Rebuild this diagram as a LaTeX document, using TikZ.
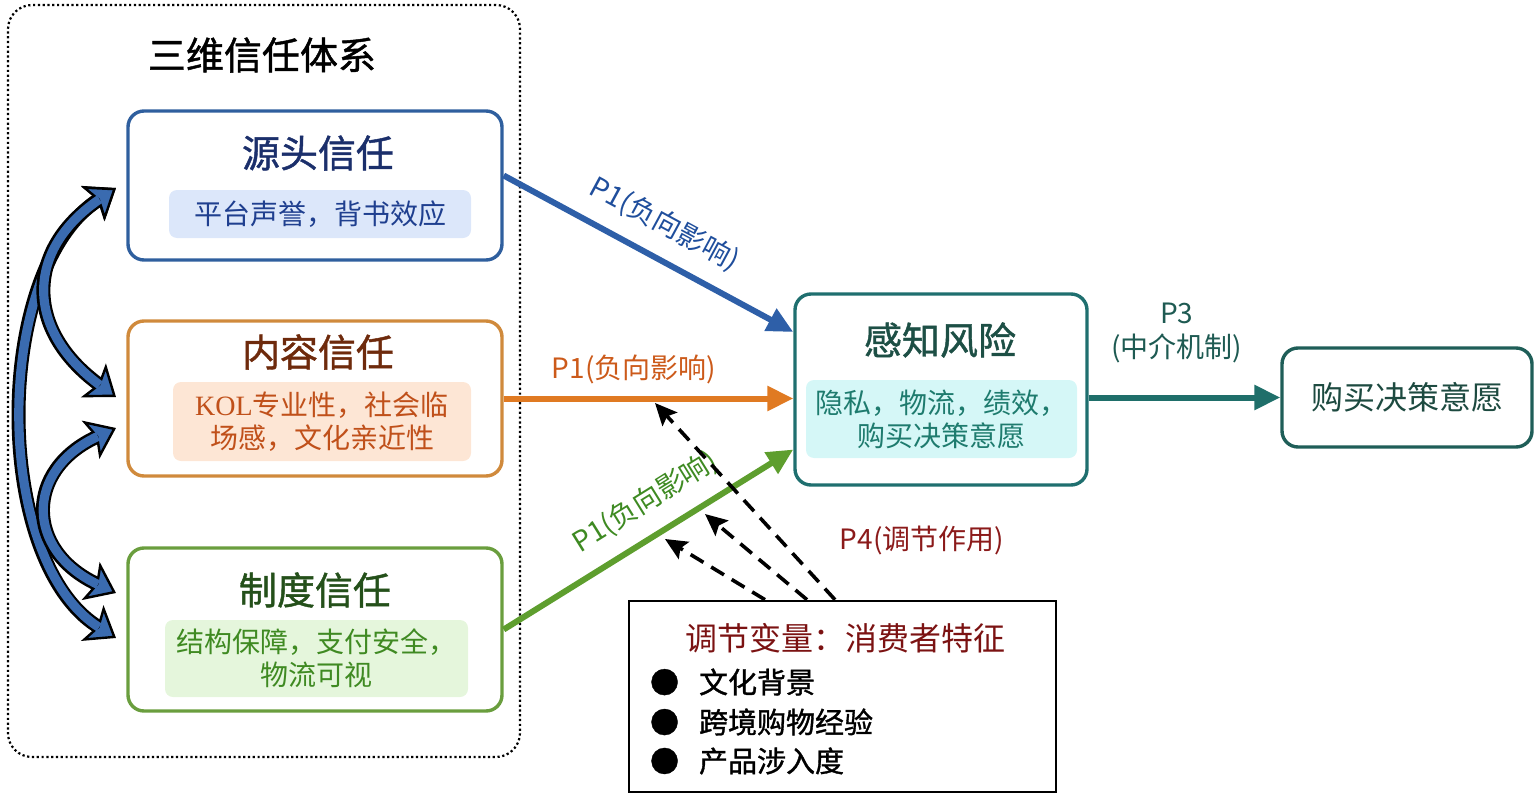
\documentclass[tikz,border=0pt]{standalone}
\usepackage{fontspec}
\setmainfont{Noto Sans CJK SC}
\newfontfamily\midfont{Noto Sans CJK SC}[FakeBold=1.2]
\newfontfamily\kolfont{Liberation Serif}
\usetikzlibrary{arrows.meta}
\definecolor{srcline}{HTML}{2F5F9E}
\definecolor{srctitle}{HTML}{1B2F6B}
\definecolor{srcfill}{HTML}{DCE7FA}
\definecolor{srctext}{HTML}{1F3F8F}
\definecolor{conline}{HTML}{D08A3C}
\definecolor{contitle}{HTML}{6E2A0C}
\definecolor{confill}{HTML}{FDE6D5}
\definecolor{context}{HTML}{C0501A}
\definecolor{insline}{HTML}{6A9E3E}
\definecolor{institle}{HTML}{24501A}
\definecolor{insfill}{HTML}{E5F6DC}
\definecolor{instext}{HTML}{3F8A22}
\definecolor{riskline}{HTML}{1F6F6F}
\definecolor{risktitle}{HTML}{1D4F45}
\definecolor{riskfill}{HTML}{D5F7F7}
\definecolor{risktext}{HTML}{1E7B6E}
\definecolor{intentline}{HTML}{1F5E58}
\definecolor{intenttext}{HTML}{1D4A40}
\definecolor{arblue}{HTML}{2E5FA8}
\definecolor{arorange}{HTML}{E07A22}
\definecolor{argreen}{HTML}{5E9E2E}
\definecolor{arteal}{HTML}{1F6F6A}
\definecolor{p1blue}{HTML}{1F4E9C}
\definecolor{p1orange}{HTML}{CC5A1A}
\definecolor{p1green}{HTML}{3E8A22}
\definecolor{p3text}{HTML}{1E5A52}
\definecolor{p4text}{HTML}{8B1A1A}
\definecolor{modred}{HTML}{7B1212}
\definecolor{arcblue}{HTML}{3A6BB0}

\begin{document}
\begin{tikzpicture}[x=0.5pt,y=-0.5pt,
		frame/.style={draw=black,line width=1.1pt,dash pattern=on 1.1pt off 1.3pt,rounded corners=12pt},
		frametitle/.style={font=\fontsize{19pt}{23pt}\midfont},
		trustbox/.style={draw=#1,line width=1.7pt,rounded corners=8pt,minimum width=187pt},
		boxtitle/.style={font=\fontsize{19pt}{23pt}\midfont},
		innerbox/.style={rounded corners=4pt,align=center,font=\fontsize{14pt}{16.5pt}\selectfont},
		plabel/.style={font=\fontsize{14pt}{17pt}\selectfont,inner sep=1pt},
		p1arrow/.style={line width=3pt,-{Triangle[length=13pt,width=12pt]}},
		modarrow/.style={line width=1.8pt,dash pattern=on 7.5pt off 4.5pt,-{Stealth[length=11pt,width=10pt,inset=2pt]}},
		modtitle/.style={text=modred,font=\fontsize{16pt}{19pt}\selectfont},
		moditem/.style={anchor=west,font=\fontsize{14.5pt}{17pt}\midfont},
		arcout/.style={draw=black,line width=7pt,{Stealth[length=14pt,width=21pt,inset=3pt,fill=arcblue,line width=1.2pt]}-{Stealth[length=14pt,width=21pt,inset=3pt,fill=arcblue,line width=1.2pt]}},
		arcin/.style={draw=arcblue,line width=4.6pt,shorten <=10pt,shorten >=10pt}]
	\useasboundingbox (0,0) rectangle (1536,797);

	\node[frame,minimum width=256pt,minimum height=376pt] (sys) at (264,381) {};
	\node[frametitle] (systitle) at (262,55) {三维信任体系};

	\node[trustbox=srcline,minimum height=74.5pt] (src) at (315,185.5) {};
	\node[boxtitle,text=srctitle] (srchead) at (318,153) {源头信任};
	\node[innerbox,fill=srcfill,text=srctext,minimum width=151pt,minimum height=24pt] (srcnote) at (320,214) {平台声誉，背书效应};

	\node[trustbox=conline,minimum height=77.5pt] (con) at (315,398.5) {};
	\node[boxtitle,text=contitle] (conhead) at (318,352) {内容信任};
	\node[innerbox,fill=confill,text=context,minimum width=149pt,minimum height=39.5pt] (connote) at (322,421.5) {{\kolfont KOL}专业性，社会临\\场感，文化亲近性};

	\node[trustbox=insline,minimum height=81.5pt] (ins) at (315,629.5) {};
	\node[boxtitle,text=institle] (inshead) at (315,590) {制度信任};
	\node[innerbox,fill=insfill,text=instext,minimum width=151.5pt,minimum height=38.5pt] (insnote) at (316.5,658.5) {结构保障，支付安全，\\物流可视};

	\node[trustbox=riskline,minimum width=146pt,minimum height=95.5pt] (risk) at (941,389.5) {};
	\node[boxtitle,text=risktitle] (riskhead) at (940,340) {感知风险};
	\node[innerbox,fill=riskfill,text=risktext,minimum width=135.5pt,minimum height=39pt] (risknote) at (941.5,419) {隐私，物流，绩效，\\购买决策意愿};

	\node[trustbox=intentline,minimum width=125pt,minimum height=49.5pt,text=intenttext,font=\fontsize{16pt}{19pt}\selectfont] (intent) at (1407,397.5) {购买决策意愿};

	\node[draw=black,line width=1.3pt,minimum width=213.5pt,minimum height=95.5pt] (mod) at (842.5,696.5) {};
	\node[modtitle] (modhead) at (845,638) {调节变量：消费者特征};
	\node[moditem] (mod1) at (643,682) {●\hspace{10pt}文化背景};
	\node[moditem] (mod2) at (643,722) {●\hspace{10pt}跨境购物经验};
	\node[moditem] (mod3) at (643,761) {●\hspace{10pt}产品涉入度};

	\draw[p1arrow,draw=arblue] ([yshift=5pt]src.east) -- ([yshift=28.75pt]risk.west)
		node[plabel,text=p1blue,midway,sloped,above=7pt] {P1(负向影响)};
	\draw[p1arrow,draw=arorange] (con.east) -- (con.east -| risk.west)
		node[plabel,text=p1orange,pos=0.45,above=5pt] {P1(负向影响)};
	\draw[p1arrow,draw=argreen] (ins.east) -- ([yshift=-30pt]risk.west)
		node[plabel,text=p1green,pos=0.55,sloped,above=7pt] {P1(负向影响)};
	\draw[p1arrow,draw=arteal] (risk.east |- intent.west) -- (intent.west)
		node[plabel,text=p3text,pos=0.46,above=15pt,align=center] {P3\\(中介机制)};

	\coordinate (m1) at (655,403);
	\coordinate (m2) at (705,514);
	\coordinate (m3) at (665,539);
	\draw[modarrow] ([xshift=-3.75pt]mod.north) -- (m1);
	\draw[modarrow] ([xshift=-17.75pt]mod.north) -- (m2);
	\draw[modarrow] ([xshift=-38.75pt]mod.north) -- (m3);
	\node[plabel,text=p4text] (p4) at (922,540) {P4(调节作用)};

	\coordinate (t1) at (116,188);
	\coordinate (t2) at (116,397);
	\coordinate (t3) at (116,428);
	\coordinate (t4) at (116,593);
	\coordinate (t5) at (116,638);
	\draw[arcout] (t5) .. controls (-8,560) and (-8,270) .. (t1);
	\draw[arcin] (t5) .. controls (-8,560) and (-8,270) .. (t1);
	\draw[arcout] (t2) .. controls (25,330) and (25,250) .. (t1);
	\draw[arcin] (t2) .. controls (25,330) and (25,250) .. (t1);
	\draw[arcout] (t3) .. controls (25,470) and (25,550) .. (t4);
	\draw[arcin] (t3) .. controls (25,470) and (25,550) .. (t4);
\end{tikzpicture}
\end{document}
